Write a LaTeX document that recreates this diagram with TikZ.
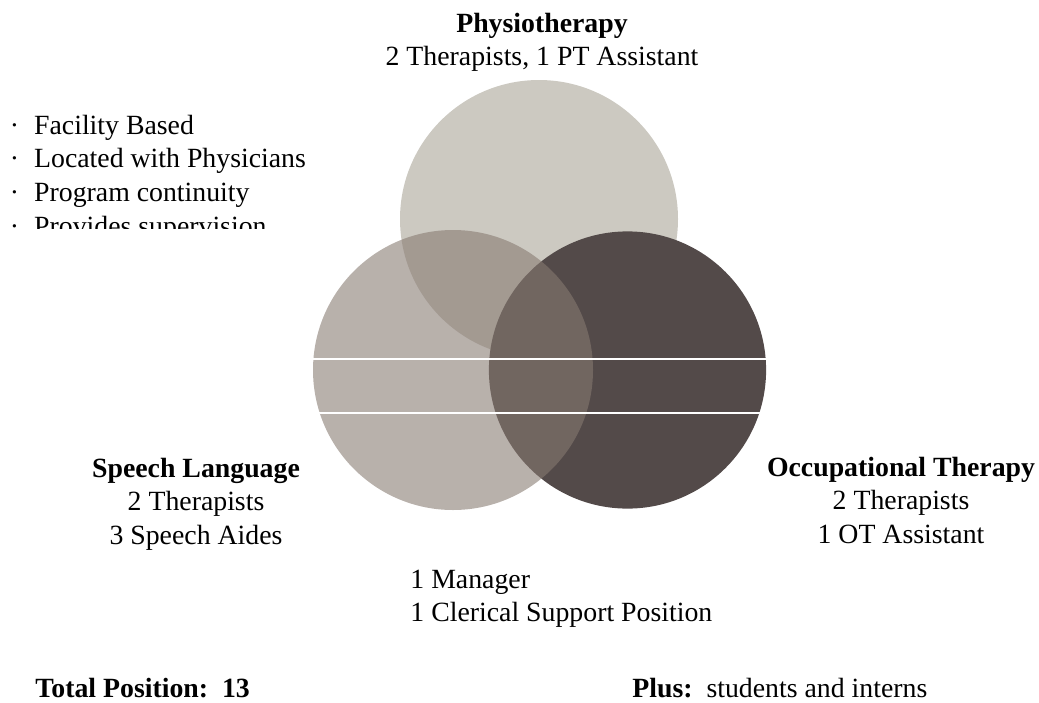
\documentclass[tikz,border=0pt]{standalone}
\usepackage{fontspec}
\setmainfont{Liberation Serif}[BoldFont={Liberation Serif Bold}]
\usetikzlibrary{positioning}

\definecolor{physio}{RGB}{204,201,193}
\definecolor{speech}{RGB}{135,122,113}
\definecolor{occup}{RGB}{83,74,73}

\tikzset{
  line/.style={font=\fontsize{13.9}{16.5}\selectfont, inner sep=0pt,
               text height=11.5pt, text depth=5pt},
  head/.style={line, font=\fontsize{13.9}{16.5}\selectfont\bfseries},
}

\begin{document}
\begin{tikzpicture}[x=0.5pt, y=-0.5pt]
    \useasboundingbox (0,0) rectangle (1039,702);

    % the three circles
    \fill[physio] (539,219) circle[radius=69.5pt];
    \fill[occup]  (627.5,370) circle[radius=69.3pt];
    \fill[speech, fill opacity=0.59] (453,370) circle[radius=70pt];

    \begin{scope}
      \clip (453,370) circle[radius=70.3pt] (627.5,370) circle[radius=69.6pt];
      \draw[white, line width=0.6pt] (300,359) -- (780,359);
      \draw[white, line width=0.6pt] (300,413) -- (780,413);
    \end{scope}

    % bullets, cut off at the bottom
    \begin{scope}
      \clip (0,100) rectangle (340,228.5);
      \node (facility) [line, anchor=base west] at (9.5,134) {\textperiodcentered\hspace{7.5pt}Facility Based};
      \node (located)  [line, anchor=north west] at (facility.south west) {\textperiodcentered\hspace{7.5pt}Located with Physicians};
      \node (program)  [line, anchor=north west] at (located.south west)  {\textperiodcentered\hspace{7.5pt}Program continuity};
      \node (provides) [line, anchor=north west] at (program.south west)  {\textperiodcentered\hspace{7.5pt}Provides supervision};
    \end{scope}

    \node (physiohead) [head, anchor=base] at (542,32) {Physiotherapy};
    \node (physiostaff) [line, below=0pt of physiohead] {2 Therapists, 1 PT Assistant};

    \node (speechhead) [head, anchor=base] at (196,477) {Speech Language};
    \node (speechther) [line, below=0pt of speechhead] {2 Therapists};
    \node (speechaide) [line, below=0pt of speechther] {3 Speech Aides};

    \node (occuphead) [head, anchor=base] at (901,476) {Occupational Therapy};
    \node (occupther) [line, below=0pt of occuphead] {2 Therapists};
    \node (occupasst) [line, below=0pt of occupther] {1 OT Assistant};

    \node (manager)  [line, anchor=base west]  at (410,588) {1 Manager};
    \node (clerical) [line, anchor=north west] at (manager.south west) {1 Clerical Support Position};

    \node (total) [line, anchor=base west] at (35,697) {\textbf{Total Position:\ \ 13}};
    \node (plus)  [line, anchor=base west] at (632,697) {\textbf{Plus:}\ \ students and interns};
\end{tikzpicture}
\end{document}
